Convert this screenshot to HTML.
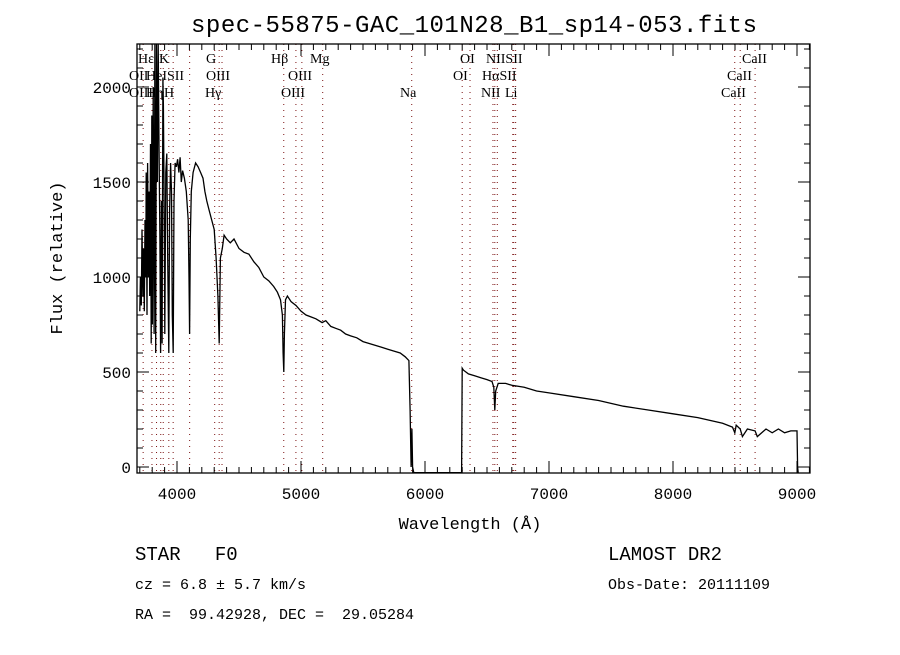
<!DOCTYPE html>
<html><head><meta charset="utf-8"><style>
body{margin:0;background:#fff;}
svg text{font-family:"Liberation Mono",monospace;fill:#000;white-space:pre;}
.ln{font-family:"Liberation Serif",serif;font-size:14px;}
</style></head><body>
<svg width="900" height="650" id="chart" xmlns="http://www.w3.org/2000/svg" xml:space="preserve">
<text x="474" y="32" text-anchor="middle" font-size="24" textLength="566">spec-55875-GAC_101N28_B1_sp14-053.fits</text>
<text x="470" y="529" text-anchor="middle" font-size="17">Wavelength (Å)</text>
<text transform="translate(62,258) rotate(-90)" text-anchor="middle" font-size="17">Flux (relative)</text>
<text x="135" y="560" font-size="19">STAR   F0</text>
<text x="135" y="589" font-size="15">cz = 6.8 ± 5.7 km/s</text>
<text x="135" y="619" font-size="15">RA =  99.42928, DEC =  29.05284</text>
<text x="608" y="560" font-size="19">LAMOST DR2</text>
<text x="608" y="589" font-size="15">Obs-Date: 20111109</text>
<g id="plot"></g>
</svg>
<script>
const xTicks=[4000,5000,6000,7000,8000,9000];
const yTicks=[0,500,1000,1500,2000];
const wl=[3700,3705,3712,3718,3725,3730,3736,3742,3748,3752,3758,3763,3770,3775,3780,3786,3792,3797,3802,3808,3815,3822,3828,3835,3842,3848,3855,3862,3868,3874,3880,3886,3890,3895,3902,3910,3918,3925,3934,3940,3948,3956,3962,3969,3976,3985,3995,4005,4015,4025,4035,4045,4060,4075,4090,4097,4102,4107,4115,4130,4150,4170,4190,4210,4225,4240,4260,4280,4300,4315,4330,4340,4350,4365,4380,4400,4430,4460,4500,4540,4580,4620,4660,4700,4740,4780,4810,4835,4850,4856,4861,4866,4875,4890,4920,4960,5000,5040,5080,5120,5170,5200,5240,5280,5320,5360,5400,5450,5500,5550,5600,5650,5700,5750,5800,5840,5870,5880,5888,5894,5900,5910,5920,6000,6100,6200,6295,6300,6310,6350,6400,6450,6500,6540,6555,6563,6570,6590,6650,6700,6800,6900,7000,7200,7400,7600,7800,8000,8200,8400,8480,8498,8510,8542,8560,8600,8662,8680,8750,8800,8850,8900,8950,8990,9000,9005,9010];
const flux=[820,1000,850,1250,900,1150,820,1300,1000,1550,800,1600,1000,1450,900,1700,650,1850,750,2000,700,2230,600,2230,1500,2230,1700,1200,600,1400,650,2050,1900,1500,700,1550,1650,1100,600,1350,1600,1450,800,600,1400,1600,1580,1620,1550,1630,1500,1560,1520,1450,1300,1000,700,1200,1450,1550,1600,1580,1550,1520,1450,1400,1350,1300,1250,1100,900,650,1100,1150,1220,1200,1180,1200,1150,1130,1120,1080,1050,1000,980,950,920,880,800,600,500,700,880,900,870,850,820,800,790,780,760,770,740,730,720,700,690,680,660,650,640,630,620,610,600,580,560,300,0,200,0,-30,-30,-30,-30,-30,-30,520,510,490,480,470,460,450,420,300,400,440,440,430,420,400,390,370,350,320,300,280,260,230,210,180,220,200,160,200,190,160,200,180,200,180,190,190,190,0,-30];
const lines=[3727,3798,3835,3869,3889,3934,3969,4102,4304,4340,4363,4861,4959,5007,5175,5893,6300,6363,6548,6563,6583,6708,6716,6731,8498,8542,8662];
const labels=[["Hε",138,63],["K",159,63],["G",206,63],["Hβ",271,63],["Mg",310,63],["OI",460,63],["NIISII",486,63],["CaII",742,63],
["OII",129,80],["HeISII",146,80],["OIII",206,80],["OIII",288,80],["OI",453,80],["HαSII",482,80],["CaII",727,80],
["OIII",129,97],["Hη",146,97],["H",164,97],["Hγ",205,97],["OIII",281,97],["Na",400,97],["NII",481,97],["Li",505,97],["CaII",721,97]];
const L=137,R=810,T=44,B=473;
const xs=v=>177+(v-4000)*0.124;
const ys=v=>467-v*0.19;
const NS="http://www.w3.org/2000/svg";
const g=document.getElementById('plot');
function mk(t,a){const e=document.createElementNS(NS,t);for(const k in a)e.setAttribute(k,a[k]);g.appendChild(e);return e;}
lines.forEach(w=>{const e=mk('line',{x1:xs(w),x2:xs(w),y1:T,y2:B,stroke:'#7a1010','stroke-width':1,'stroke-dasharray':'1,5'});

});
labels.forEach(l=>{const e=mk('text',{x:l[1],y:l[2],class:'ln'});e.textContent=l[0];

});
const d=wl.map((w,i)=>(i?'L':'M')+xs(w).toFixed(1)+','+Math.min(B,Math.max(T,ys(flux[i]))).toFixed(1)).join('');
const p=mk('path',{d:d,fill:'none',stroke:'#000','stroke-width':1.3});


const f=mk('rect',{x:L,y:T,width:R-L,height:B-T,fill:'none',stroke:'#000','stroke-width':1.3});


for(let w=3700;w<=9100;w+=100){const x=xs(w);if(x<L||x>R)continue;const len=w%1000?6:12;
mk('line',{x1:x,x2:x,y1:B,y2:B-len,stroke:'#000'});mk('line',{x1:x,x2:x,y1:T,y2:T+len,stroke:'#000'});}
for(let v=0;v<=2200;v+=100){const y=ys(v);if(y<T||y>B)continue;const len=v%500?6:12;
mk('line',{x1:L,x2:L+len,y1:y,y2:y,stroke:'#000'});mk('line',{x1:R,x2:R-len,y1:y,y2:y,stroke:'#000'});}
xTicks.forEach(v=>{const e=mk('text',{x:xs(v),y:B+26,'text-anchor':'middle','font-size':16});e.textContent=v;

});
yTicks.forEach(v=>{const e=mk('text',{x:L-6,y:ys(v)+6,'text-anchor':'end','font-size':16});e.textContent=v;

});
</script>
</body></html>
